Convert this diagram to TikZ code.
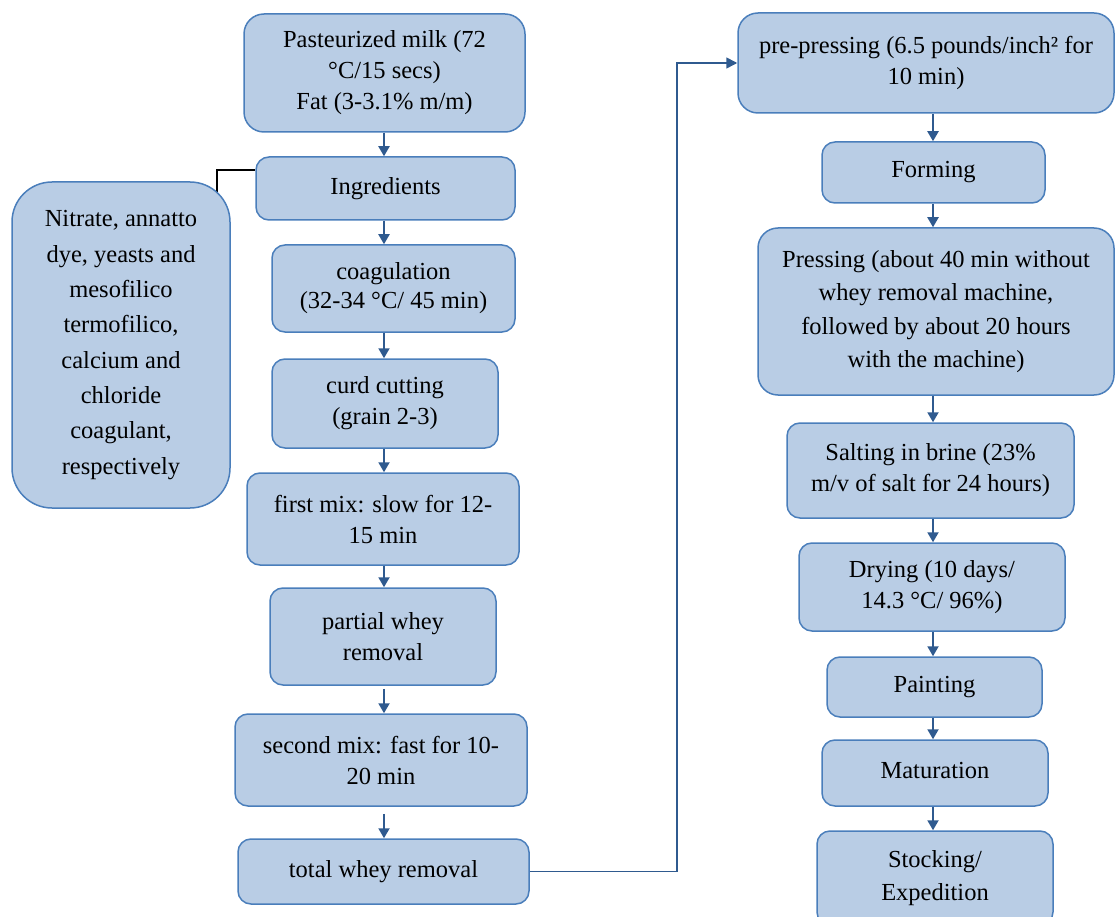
\documentclass[tikz,border=0pt]{standalone}
\usepackage{fontspec}
\setmainfont{Liberation Serif}
\usetikzlibrary{arrows.meta,backgrounds}
\definecolor{boxfill}{HTML}{B9CDE5}
\definecolor{boxline}{HTML}{4A7EBB}
\definecolor{arrcol}{HTML}{2F5A8F}
\tikzset{
  box/.style={draw=boxline, fill=boxfill, line width=1.5pt, rounded corners=13pt,
    align=center, inner sep=0pt, font=\fontsize{24.5}{31}\selectfont, text=black},
  arr/.style={draw=arrcol, line width=2pt, -{Triangle[length=10pt,width=11pt]}},
  link/.style={draw=arrcol, line width=1.6pt, -{Triangle[length=11pt,width=11pt]}},
}
\begin{document}
\begin{tikzpicture}[x=1pt,y=-1pt]
\useasboundingbox (0,0) rectangle (1116,917);
\clip (0,0) rectangle (1116,917);
\coordinate (colL) at (384,0);
\coordinate (colR) at (933,0);
\coordinate (bend) at (677,0);
\coordinate (sj) at (217,170);
% left column
\node[box, rounded corners=20pt, minimum width=281pt, minimum height=118pt] (P) at (384.5,73) {Pasteurized milk (72\\°C/15 secs)\\Fat (3-3.1\% m/m)};
\node[box, minimum width=259pt, minimum height=63pt] (Ing) at (385.5,188.5) {Ingredients};
\node[box, minimum width=243pt, minimum height=87pt, font=\fontsize{24.5}{29}\selectfont] (Coag) at (393.5,288.5) {coagulation\\(32-34 °C/ 45 min)};
\node[box, minimum width=226pt, minimum height=89pt] (Curd) at (385,403.5) {curd cutting\\(grain 2-3)};
\node[box, minimum width=272pt, minimum height=92pt] (First) at (383,519) {first mix: slow for 12-\\15 min};
\node[box, minimum width=226pt, minimum height=97pt] (Part) at (383,636.5) {partial whey\\removal};
\node[box, minimum width=292pt, minimum height=92pt] (Second) at (381,760) {second mix: fast for 10-\\20 min};
\node[box, minimum width=291pt, minimum height=65pt] (Total) at (383.5,871.5) {total whey removal};
% side box
\node[box, rounded corners=40pt, minimum width=218pt, minimum height=326pt, font=\fontsize{24.5}{35.3}\selectfont] (Side) at (121,345) {Nitrate, annatto\\dye, yeasts and\\mesofilico\\termofilico,\\calcium and\\chloride\\coagulant,\\respectively};
% right column
\node[box, rounded corners=20pt, minimum width=376pt, minimum height=100pt] (R1) at (926,63) {pre-pressing (6.5 pounds/inch² for\\10 min)};
\node[box, minimum width=223pt, minimum height=61pt] (R2) at (933.5,172.5) {Forming};
\node[box, rounded corners=20pt, minimum width=356pt, minimum height=167pt, font=\fontsize{24.5}{33.3}\selectfont] (R3) at (936,311.5) {Pressing (about 40 min without\\whey removal machine,\\followed by about 20 hours\\with the machine)};
\node[box, minimum width=287pt, minimum height=95pt] (R4) at (930.5,470.5) {Salting in brine (23\%\\m/v of salt for 24 hours)};
\node[box, minimum width=266pt, minimum height=88pt] (R5) at (932,587) {Drying (10 days/\\14.3 °C/ 96\%)};
\node[box, minimum width=215pt, minimum height=60pt] (R6) at (934.5,687) {Painting};
\node[box, minimum width=226pt, minimum height=66pt] (R7) at (935,773) {\raisebox{6pt}{Maturation}};
\node[box, minimum width=236pt, minimum height=94pt, font=\fontsize{24.5}{33}\selectfont] (R8) at (935,878) {Stocking/\\Expedition};
% left arrows
\draw[arr] (P.south -| colL) -- (Ing.north -| colL);
\draw[arr] (Ing.south -| colL) -- (Coag.north -| colL);
\draw[arr] (Coag.south -| colL) -- (Curd.north -| colL);
\draw[arr] (Curd.south -| colL) -- (First.north -| colL);
\draw[arr] (First.south -| colL) -- (Part.north -| colL);
\draw[arr, shorten <=3pt] (Part.south -| colL) -- (Second.north -| colL);
\draw[arr, shorten <=7pt] (Second.south -| colL) -- (Total.north -| colL);
% right arrows
\draw[arr] (R1.south -| colR) -- (R2.north -| colR);
\draw[arr] (R2.south -| colR) -- (R3.north -| colR);
\draw[arr] (R3.south -| colR) -- (R4.north -| colR);
\draw[arr] (R4.south -| colR) -- (R5.north -| colR);
\draw[arr] (R5.south -| colR) -- (R6.north -| colR);
\draw[arr] (R6.south -| colR) -- (R7.north -| colR);
\draw[arr] (R7.south -| colR) -- (R8.north -| colR);
% link between columns
\draw[link] (Total.east) -- (Total.east -| bend) |- (R1.west);
% side connector
\begin{scope}[on background layer]
\draw[black, line width=1.3pt] (Side.center -| sj) -- (sj) -- (Ing.west |- sj);
\end{scope}
\end{tikzpicture}
\end{document}
